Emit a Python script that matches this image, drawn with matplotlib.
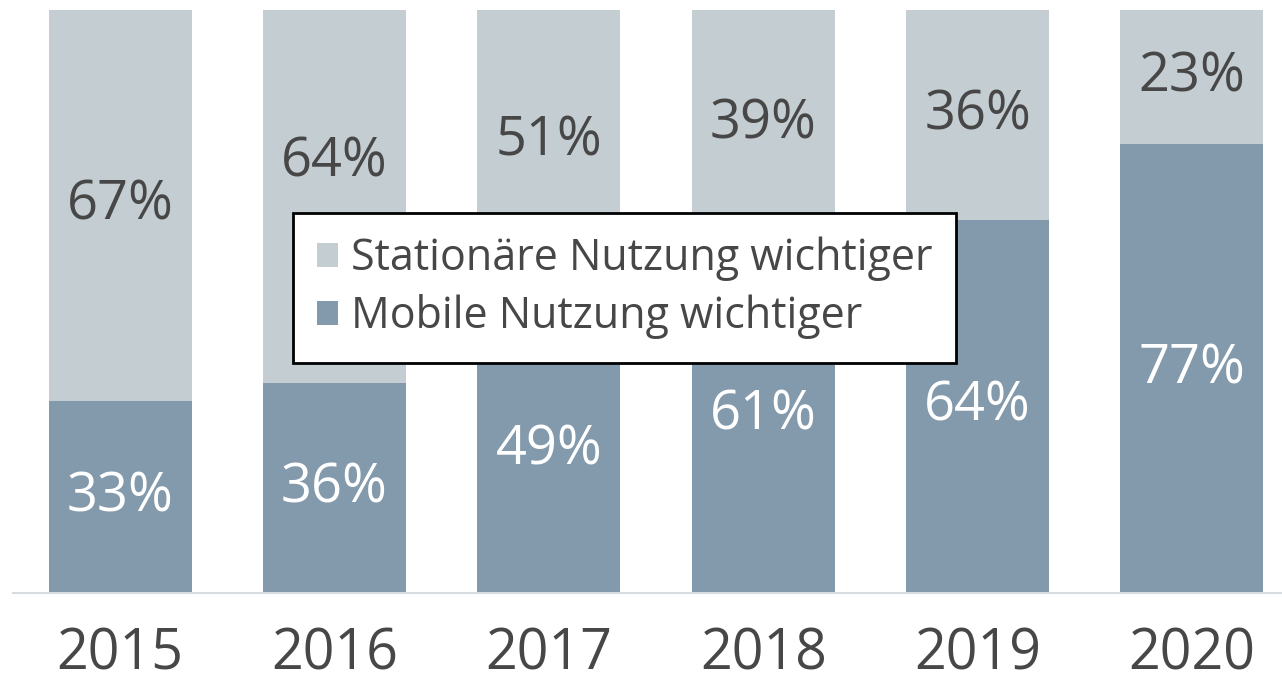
import matplotlib.pyplot as plt
import numpy as np

plt.rcParams['font.family'] = ['Open Sans', 'DejaVu Sans']

# Daten
years = ['2015', '2016', '2017', '2018', '2019', '2020']
mobile = [33, 36, 49, 61, 64, 77]
stationaer = [67, 64, 51, 39, 36, 23]

# Farben
col_stat = '#c4cdd1'
col_mob = '#8399ac'
col_text = '#474747'

# Labels unter der Legende etwas nach oben geschoben (Anteil der Achsenhoehe)
stat_shift = [0, 0.06, 0.03, 0, 0, 0]

fig = plt.figure(figsize=(12.82, 6.81), dpi=100)
ax = fig.add_axes([13 / 1282, 88 / 681, 1 - 13 / 1282, (593 - 10) / 681])

x = np.arange(len(years))
mob = np.array(mobile) / 100
stat = np.array(stationaer) / 100

ax.bar(x, stat, bottom=mob, width=0.667, color=col_stat,
       label='Stationäre Nutzung wichtiger')
ax.bar(x, mob, width=0.667, color=col_mob,
       label='Mobile Nutzung wichtiger')

for i in range(len(years)):
    ax.text(x[i], mob[i] / 2, f'{mobile[i]}%', ha='center', va='center',
            fontsize=39, color='white')
    ax.text(x[i], mob[i] + stat[i] / 2 + stat_shift[i], f'{stationaer[i]}%',
            ha='center', va='center', fontsize=39, color=col_text)

ax.set_xlim(-0.5, 5.42)
ax.set_ylim(0, 1)
ax.set_xticks(x)
ax.set_xticklabels(years, fontsize=40, color=col_text)
ax.tick_params(axis='x', length=0, pad=24)
ax.set_yticks([])
for s in ['top', 'right', 'left']:
    ax.spines[s].set_visible(False)
ax.spines['bottom'].set_color('#d8dcde')
ax.spines['bottom'].set_linewidth(1.5)

leg = ax.legend(loc='upper left', bbox_to_anchor=(293 / 1282, 1 - 213 / 681),
                bbox_transform=fig.transFigure, borderaxespad=0,
                fontsize=31, frameon=True, fancybox=False,
                handlelength=0.5, handleheight=0.5, handletextpad=0.3,
                labelspacing=0.3, borderpad=0.55)
leg.get_frame().set_edgecolor('black')
leg.get_frame().set_linewidth(2)
leg.get_frame().set_alpha(1)
for t in leg.get_texts():
    t.set_color(col_text)

fig.savefig('out.png', dpi=100)
